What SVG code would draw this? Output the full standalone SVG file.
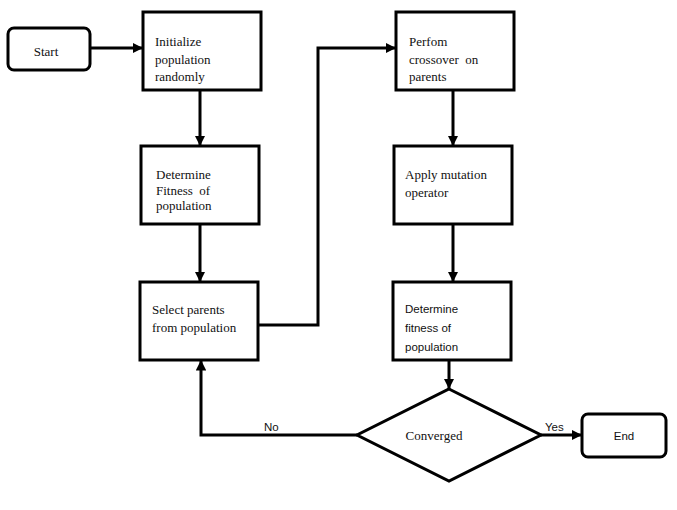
<svg xmlns="http://www.w3.org/2000/svg" width="677" height="510" viewBox="0 0 677 510">
<style>
.box{fill:#fff;stroke:#000;stroke-width:3}
.c{fill:none;stroke:#000;stroke-width:3}
.t{font-family:"Liberation Serif","Times New Roman",serif;font-size:13px;fill:#111}
.s{font-family:"Liberation Sans",Arial,sans-serif;font-size:11.5px;fill:#111}
</style>
<defs>
<marker id="ah" viewBox="0 0 10 10" refX="10" refY="5" markerWidth="3.5" markerHeight="3.5" orient="auto" markerUnits="strokeWidth">
<path d="M0,0 L10,5 L0,10 z" fill="#000"/>
</marker>
</defs>
<rect width="677" height="510" fill="#fff"/>
<g id="connectors">
<line class="c" x1="90" y1="48" x2="143" y2="48" marker-end="url(#ah)"/>
<line class="c" x1="200" y1="90" x2="200" y2="146" marker-end="url(#ah)"/>
<line class="c" x1="200" y1="224" x2="200" y2="282" marker-end="url(#ah)"/>
<polyline class="c" points="258,325 318,325 318,48 396,48" marker-end="url(#ah)"/>
<line class="c" x1="453" y1="90" x2="453" y2="146" marker-end="url(#ah)"/>
<line class="c" x1="453" y1="224" x2="453" y2="282" marker-end="url(#ah)"/>
<line class="c" x1="449" y1="360" x2="449" y2="389" marker-end="url(#ah)"/>
<polyline class="c" points="357,435 201,435 201,360" marker-end="url(#ah)"/>
<line class="c" x1="541" y1="435" x2="582" y2="435" marker-end="url(#ah)"/>
<text class="s" x="264" y="431">No</text>
<text class="s" x="545" y="431">Yes</text>
</g>
<g id="start">
<rect class="box" x="8" y="28" width="82" height="42" rx="6"/>
<text class="t" x="46" y="56" text-anchor="middle">Start</text>
</g>
<g id="init">
<rect class="box" x="143" y="12" width="118" height="78"/>
<text class="t" x="155" y="46">Initialize</text>
<text class="t" x="155" y="64">population</text>
<text class="t" x="155" y="81">randomly</text>
</g>
<g id="fitness1">
<rect class="box" x="141" y="146" width="118" height="78"/>
<text class="t" x="156" y="179">Determine</text>
<text class="t" x="156" y="195" xml:space="preserve">Fitness  of</text>
<text class="t" x="156" y="210">population</text>
</g>
<g id="select">
<rect class="box" x="140" y="282" width="118" height="78"/>
<text class="t" x="152" y="314">Select parents</text>
<text class="t" x="152" y="332">from population</text>
</g>
<g id="crossover">
<rect class="box" x="396" y="12" width="118" height="78"/>
<text class="t" x="409" y="46">Perfom</text>
<text class="t" x="409" y="64" xml:space="preserve">crossover  on</text>
<text class="t" x="409" y="81">parents</text>
</g>
<g id="mutation">
<rect class="box" x="394" y="146" width="118" height="78"/>
<text class="t" x="405" y="179">Apply mutation</text>
<text class="t" x="405" y="197">operator</text>
</g>
<g id="fitness2">
<rect class="box" x="393" y="282" width="118" height="78"/>
<text class="s" x="405" y="313">Determine</text>
<text class="s" x="405" y="332">fitness of</text>
<text class="s" x="405" y="351">population</text>
</g>
<g id="converged">
<polygon class="box" points="449,389 541,435 449,481 357,435"/>
<text class="t" x="434" y="440" text-anchor="middle">Converged</text>
</g>
<g id="end">
<rect class="box" x="582" y="414" width="84" height="43" rx="6"/>
<text class="s" x="624" y="440" text-anchor="middle">End</text>
</g>
</svg>
